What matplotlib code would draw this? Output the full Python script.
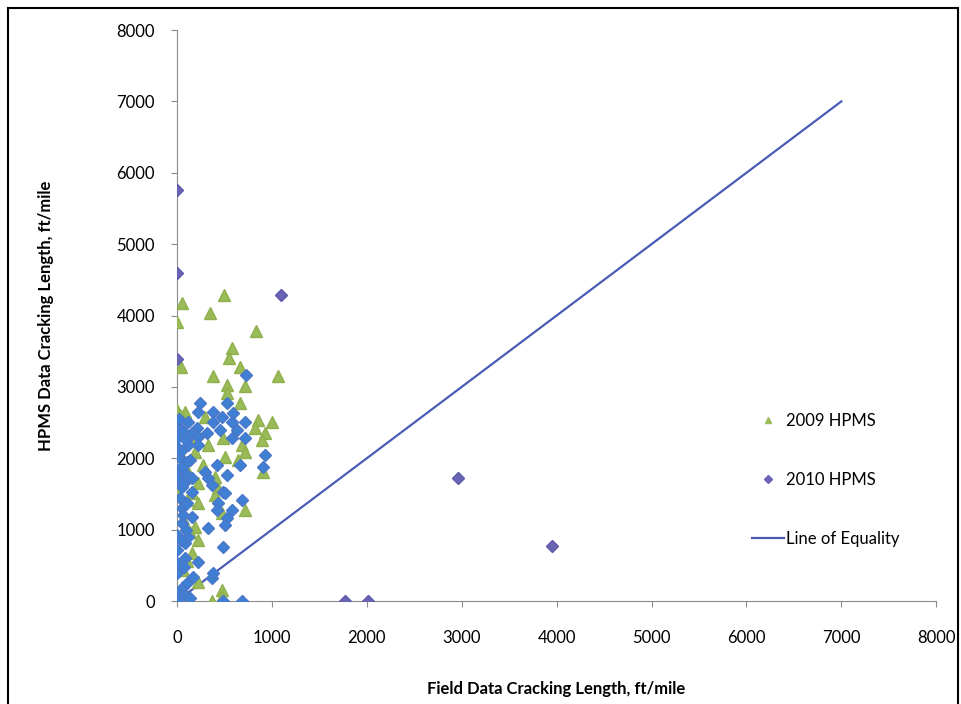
import numpy as np
import matplotlib
matplotlib.use('Agg')
import matplotlib.pyplot as plt
from matplotlib.lines import Line2D

plt.rcParams['font.family'] = ['Lato', 'DejaVu Sans']

# 2009 HPMS (field, hpms) in ft/mile
x09 = [0, 50, 495, 350, 830, 580, 550, 40, 660, 380, 1060, 530, 720,
       530, 660, 0, 80, 300, 1000, 850, 820, 930, 480, 900, 680, 330,
       720, 190, 510, 640, 270, 910, 400, 220, 430, 0, 160, 400, 220,
       720, 470, 190, 220, 160, 60, 220, 470, 370, 470, 80, 130, 30,
       100, 60, 140, 110, 40, 90]
y09 = [3910, 4170, 4290, 4030, 3780, 3540, 3400, 3280, 3280, 3150, 3150, 3030, 3010,
       2910, 2770, 2680, 2650, 2580, 2510, 2530, 2420, 2350, 2280, 2250, 2180, 2180,
       2090, 2090, 2020, 1970, 1900, 1810, 1740, 1650, 1580, 1510, 1510, 1480, 1370,
       1270, 1230, 1040, 850, 670, 430, 270, 150, 0, 60, 0, 2300, 2600,
       1420, 1150, 960, 560, 2050, 1860]

# 2010 HPMS, isolated points
x10 = [0, 0, 0, 1100, 2960, 3950, 1770, 2010]
y10 = [5760, 4600, 3390, 4290, 1720, 770, 0, 0]

# 2010 HPMS, points in the main cluster
x10b = [730, 240, 530, 220, 380, 590, 470, 720, 120, 380, 580, 30, 210, 450,
        630, 160, 320, 0, 220, 580, 720, 120, 0, 220, 930, 30, 140, 420,
        660, 910, 0, 80, 300, 530, 0, 160, 330, 370, 50, 160, 480, 510,
        680, 430, 50, 580, 420, 160, 530, 50, 510, 330, 0, 120, 80, 480,
        0, 80, 220, 0, 0, 170, 370, 380, 0, 80, 0, 140, 480, 680, 0, 60,
        60, 90, 40, 100, 70, 30, 110, 60, 90, 40, 70, 100, 50, 20]
y10b = [3170, 2770, 2770, 2650, 2650, 2630, 2580, 2510, 2510, 2510, 2510, 2420, 2420, 2400,
        2400, 2350, 2350, 2280, 2300, 2280, 2280, 2180, 2160, 2180, 2040, 2000, 1970, 1900,
        1900, 1880, 1830, 1790, 1810, 1760, 1720, 1720, 1720, 1620, 1600, 1530, 1530, 1510,
        1410, 1370, 1300, 1270, 1270, 1180, 1160, 1090, 1060, 1020, 920, 900, 810, 760,
        710, 600, 550, 530, 390, 340, 320, 390, 130, 80, 40, 40, 0, 0, 0, 200,
        2380, 2250, 2100, 1950, 1650, 1450, 1380, 1200, 1000, 850, 470, 250, 1880, 2550]

eq = [0, 7000]

fig = plt.figure(figsize=(9.61, 7.04), dpi=100)
ax = fig.add_axes([0.1842, 0.1463, 0.790, 0.811])

ax.plot(eq, eq, color='#4a5cb5', lw=1.6, zorder=2, label='Line of Equality')
ax.plot(x09, y09, linestyle='none', marker='^', ms=8, color='#9bbb59', mec='#8fb04c', zorder=3)
ax.plot(x10b, y10b, linestyle='none', marker='D', ms=6.5, color='#3f7fd4', mec='#4a78c8', zorder=4)
ax.plot(x10, y10, linestyle='none', marker='D', ms=6.5, color='#6a64b4', mec='#5f5aa8', zorder=4)

ax.set_xlim(0, 8000)
ax.set_ylim(0, 8000)
ax.set_xticks(np.arange(0, 8001, 1000))
ax.set_yticks(np.arange(0, 8001, 1000))
for s in ['top', 'right']:
    ax.spines[s].set_visible(False)
for s in ['left', 'bottom']:
    ax.spines[s].set_color('#8c8c8c')
ax.tick_params(axis='both', direction='out', length=4, color='#8c8c8c', labelsize=12, labelcolor='black')
ax.tick_params(axis='y', pad=12)
ax.tick_params(axis='x', pad=17)

ax.set_xlabel('Field Data Cracking Length, ft/mile', fontsize=12, fontweight='bold', labelpad=25)
ax.set_ylabel('HPMS Data Cracking Length, ft/mile', fontsize=12, fontweight='bold', labelpad=45)

handles = [Line2D([], [], linestyle='none', marker='^', ms=4.5, color='#9bbb59'),
           Line2D([], [], linestyle='none', marker='D', ms=4, color='#6a64b4'),
           Line2D([], [], color='#4a5cb5', lw=1.6)]
labels = ['2009 HPMS', '2010 HPMS', 'Line of Equality']
ax.legend(handles, labels, loc='center left', bbox_to_anchor=(0.738, 0.212), frameon=False,
          fontsize=12, labelspacing=2.6, handlelength=1.9, handletextpad=0.15)

# outer frame of the figure
fig.add_artist(plt.Rectangle((8 / 961, -0.01), 950 / 961, 1 - 8 / 704 + 0.01,
                             transform=fig.transFigure, fill=False, edgecolor='black', lw=1.5))

fig.savefig('out.png', dpi=100)
